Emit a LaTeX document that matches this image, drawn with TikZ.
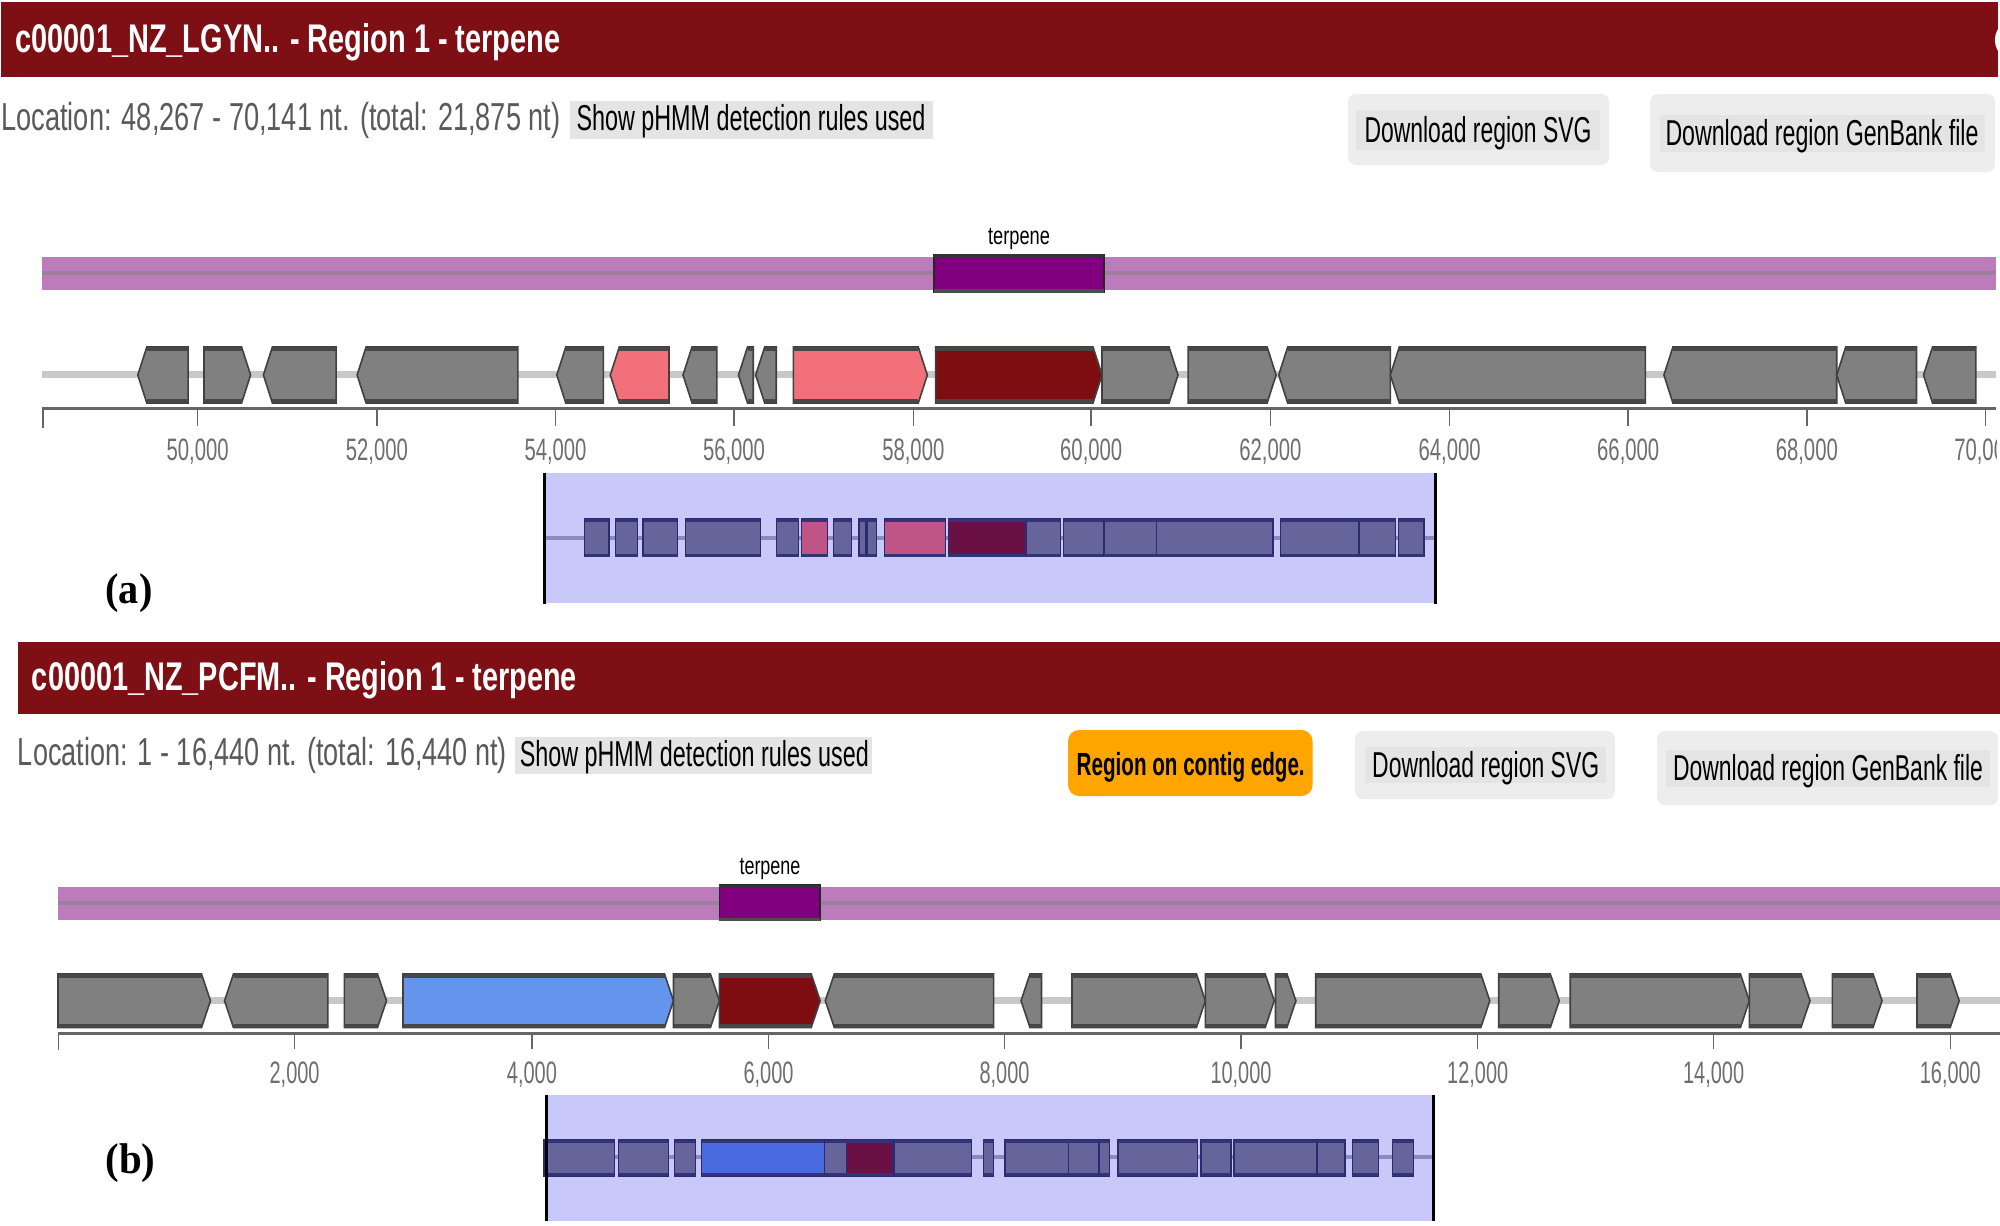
\documentclass[tikz,border=0pt]{standalone}
\usepackage{graphicx}
\usepackage{fontspec}
\setmainfont{Liberation Sans}
\newfontfamily\labelfont{Liberation Serif}
\definecolor{hdr}{HTML}{7E0F15}
\definecolor{btn}{HTML}{EDEDED}
\definecolor{btnin}{HTML}{E4E4E4}
\definecolor{barc}{HTML}{BC7CBC}
\definecolor{barl}{HTML}{9A809A}
\definecolor{regc}{HTML}{800080}
\definecolor{gline}{HTML}{C8C8C8}
\definecolor{ggrey}{HTML}{808080}
\definecolor{gpink}{HTML}{F1707A}
\definecolor{gdark}{HTML}{7E0D12}
\definecolor{gblue}{HTML}{6495ED}
\definecolor{mbg}{HTML}{C9C9F9}
\definecolor{mline}{HTML}{8A8ABC}
\definecolor{mgrey}{HTML}{65659B}
\definecolor{mpink}{HTML}{BF5587}
\definecolor{mdark}{HTML}{6B1045}
\definecolor{mblue}{HTML}{4A6BE0}
\definecolor{mstroke}{HTML}{2A2A70}
\definecolor{axisc}{HTML}{666666}
\definecolor{axtxt}{HTML}{6E6E6E}
\definecolor{loc}{HTML}{5A5A5A}
\definecolor{orng}{HTML}{FFA500}
\newcommand\fittext[3]{\resizebox{#1pt}{\height}{\fontsize{#2}{#2}\selectfont #3}}
% gene arrows: left, right, top, bottom, fill
\newcommand\geneR[5]{%
  \fill[#5] (#1,#3) -- ({#2-9},#3) -- (#2,{(#3+#4)/2}) -- ({#2-9},#4) -- (#1,#4) -- cycle;
  \draw[genestroke] (#1,#3) -- ({#2-9},#3) -- (#2,{(#3+#4)/2}) -- ({#2-9},#4) -- (#1,#4) -- cycle;
  \fill[geneband] (#1,#3) rectangle ({#2-9},{#3+4});
  \fill[geneband] (#1,{#4-4}) rectangle ({#2-9},#4);}
\newcommand\geneL[5]{%
  \fill[#5] (#2,#3) -- ({#1+9},#3) -- (#1,{(#3+#4)/2}) -- ({#1+9},#4) -- (#2,#4) -- cycle;
  \draw[genestroke] (#2,#3) -- ({#1+9},#3) -- (#1,{(#3+#4)/2}) -- ({#1+9},#4) -- (#2,#4) -- cycle;
  \fill[geneband] ({#1+9},#3) rectangle (#2,{#3+4});
  \fill[geneband] ({#1+9},{#4-4}) rectangle (#2,#4);}
\newcommand\mini[5]{%
  \fill[#5,draw=mstroke,line width=1.3pt] (#1,#3) rectangle (#2,#4);
  \fill[mstroke!85!mgrey] (#1,#3) rectangle (#2,{#3+3});
  \fill[mstroke!85!mgrey] (#1,{#4-3}) rectangle (#2,#4);}
\tikzset{
  x=1pt,y=-1pt,
  txt/.style={inner sep=0pt,outer sep=0pt,anchor=center,yshift=-2.2pt},
  genestroke/.style={draw=black!75,line width=1.6pt,line join=miter},
  geneband/.style={fill=black!72},
  btnbox/.style={fill=btn,rounded corners=8pt},
  btninner/.style={fill=btnin},
  ticks/.style={draw=axisc,line width=1.5pt},
  axislabel/.style={txt,text=axtxt},
}
\begin{document}
\begin{tikzpicture}
\useasboundingbox (0,0) rectangle (2000,1226);
\fill[white] (0,0) rectangle (2000,1226);

%% ---------- panel a ----------
\fill[hdr] (1,2) rectangle (1998,77);
\fill[white] (2003,40) ellipse (8 and 14);
\node[txt,text=white,font=\bfseries] (titleA) at (288,40) {\fittext{545}{40}{c00001\_NZ\_LGYN.. - Region 1 - terpene}};
\node[txt,text=loc] (locA) at (281,118.6) {\fittext{559}{39}{Location: 48,267 - 70,141 nt. (total: 21,875 nt)}};
\fill[btninner] (570,101) rectangle (933,139);
\node[txt,text=black] (rulesA) at (751,119) {\fittext{349}{36}{Show pHMM detection rules used}};
\fill[btnbox] (1348,94) rectangle (1609,165);
\fill[btninner] (1356,110) rectangle (1600,149.5);
\node[txt,text=black] (svgA) at (1478,130.5) {\fittext{227}{36}{Download region SVG}};
\fill[btnbox] (1650,94) rectangle (1995,172);
\fill[btninner] (1660,115) rectangle (1985,152);
\node[txt,text=black] (gbA) at (1822,134.4) {\fittext{313}{36}{Download region GenBank file}};

\fill[barc] (42,256.5) rectangle (1996,290);
\fill[barl] (42,271) rectangle (1996,275);
\fill[regc,draw=black!85,line width=1.6pt] (934,254.5) rectangle (1104,292);
\fill[black!80] (934,254) rectangle (1104,257.5);
\fill[black!70] (934,289) rectangle (1104,292.6);
\node[txt,text=black] (regA) at (1019,237) {\fittext{62}{25}{terpene}};

\fill[gline] (42,371) rectangle (1996,378);
\def\gt{347}\def\gb{403}
\foreach \l/\r/\c in {137.8/188.1/ggrey,263.4/336.1/ggrey,357.1/517.9/ggrey,556.8/603.3/ggrey,610.3/669/gpink,683/716.8/ggrey,738.5/753.2/ggrey,755.7/776.2/ggrey,1278.7/1390.3/ggrey,1390.3/1645.4/ggrey,1663.9/1836.7/ggrey,1836.7/1916.5/ggrey,1923.5/1975.8/ggrey}
  {\geneL{\l}{\r}{\gt}{\gb}{\c}}
\foreach \l/\r/\c in {204/250.6/ggrey,793.4/927.3/gpink,935.6/1102/gdark,1102/1178/ggrey,1188.1/1276.1/ggrey}
  {\geneR{\l}{\r}{\gt}{\gb}{\c}}

\draw[axisc,line width=3pt] (42,408.5) -- (1996,408.5);
\draw[ticks] (43,408.5) -- (43,428);
\foreach \x/\t in {197.7/50,376.9/52,555.5/54,734/56,913.3/58,1091.2/60,1270.4/62,1449.6/64,1628.2/66,1806.8/68}{
  \draw[ticks] (\x,408.5) -- (\x,426);
  \node[axislabel] at (\x,449) {\fittext{62}{31}{\t,000}};
}
\draw[ticks] (1985.3,408.5) -- (1985.3,426);
\begin{scope}
  \clip (1900,430) rectangle (1996,470);
  \node[axislabel] at (1985.3,449) {\fittext{62}{31}{70,000}};
\end{scope}

\fill[mbg] (544,472.5) rectangle (1435,603);
\fill[mline] (544,535.7) rectangle (1435,539.7);
\foreach \l/\r/\c in {584.8/609/mgrey,615.4/637.8/mgrey,642.9/677.3/mgrey,685.6/760.2/mgrey,776.2/798.5/mgrey,801.7/827.8/mpink,833.5/851.4/mgrey,859.1/866.1/mgrey,867.3/876.3/mgrey,884.6/945.2/mpink,948.3/1026/mdark,1026.1/1060.6/mgrey,1063.8/1104/mgrey,1104/1156.3/mgrey,1156.3/1273/mgrey,1280.6/1359/mgrey,1359/1395.4/mgrey,1398.6/1424.1/mgrey}
  {\mini{\l}{\r}{518.8}{556.7}{\c}}
\draw[black,line width=3pt] (544,472.5) -- (544,604);
\draw[black,line width=3pt] (1435,472.5) -- (1435,604);
\node[txt,text=black,font=\labelfont\bfseries] (lblA) at (129,591) {\fittext{47}{43}{(a)}};

%% ---------- panel b ----------
\fill[hdr] (18,642.4) rectangle (2000,714);
\node[txt,text=white,font=\bfseries] (titleB) at (304.5,678) {\fittext{545}{40}{c00001\_NZ\_PCFM.. - Region 1 - terpene}};
\node[txt,text=loc] (locB) at (262.5,753.4) {\fittext{489}{39}{Location: 1 - 16,440 nt. (total: 16,440 nt)}};
\fill[btninner] (514.7,737) rectangle (872.4,773.5);
\node[txt,text=black] (rulesB) at (694.3,755.3) {\fittext{349}{36}{Show pHMM detection rules used}};
\fill[orng,rounded corners=11pt] (1068,730) rectangle (1312.5,796);
\node[txt,text=black,font=\bfseries] (edgeB) at (1190.7,765) {\fittext{228}{32}{Region on contig edge.}};
\fill[btnbox] (1355,731) rectangle (1615,799);
\fill[btninner] (1365,747) rectangle (1606,783);
\node[txt,text=black] (svgB) at (1485.7,765.7) {\fittext{227}{36}{Download region SVG}};
\fill[btnbox] (1657,731) rectangle (1998,805);
\fill[btninner] (1666,750) rectangle (1990,787);
\node[txt,text=black] (gbB) at (1828,769) {\fittext{310}{36}{Download region GenBank file}};

\fill[barc] (58,887) rectangle (2000,920);
\fill[barl] (58,901) rectangle (2000,905);
\fill[regc,draw=black!85,line width=1.6pt] (719.4,885) rectangle (820,920.5);
\fill[black!80] (719.4,884.5) rectangle (820,888);
\fill[black!70] (719.4,917.5) rectangle (820,921);
\node[txt,text=black] (regB) at (770,867) {\fittext{61}{25}{terpene}};

\fill[gline] (58,997.3) rectangle (2000,1004.3);
\def\gt{974}\def\gb{1027.5}
\foreach \l/\r/\c in {224.5/327.8/ggrey,825.3/993.6/ggrey,1021/1041.5/ggrey}
  {\geneL{\l}{\r}{\gt}{\gb}{\c}}
\foreach \l/\r/\c in {58/210.5/ggrey,344.4/386.5/ggrey,403/673.5/gblue,673.5/719.4/ggrey,719.4/820.2/gdark,1072/1205.4/ggrey,1205.4/1274.2/ggrey,1275.5/1295.9/ggrey,1315.7/1489.8/ggrey,1498.7/1559.3/ggrey,1570.2/1749.4/ggrey,1749.4/1810/ggrey,1832.3/1882/ggrey,1917/1959.2/ggrey}
  {\geneR{\l}{\r}{\gt}{\gb}{\c}}

\draw[axisc,line width=3pt] (58,1033.6) -- (2000,1033.6);
\draw[ticks] (58.7,1033.6) -- (58.7,1050);
\foreach \x/\t/\w in {294.6/2/50,531.9/4/50,768.5/6/50,1004.5/8/50,1241/10/61,1477.7/12/61,1713.6/14/61,1950.3/16/61}{
  \draw[ticks] (\x,1033.6) -- (\x,1049);
  \node[axislabel] at (\x,1072) {\fittext{\w}{31}{\t,000}};
}

\fill[mbg] (546,1094.7) rectangle (1433.7,1221);
\fill[mline] (546,1155.3) rectangle (1433.7,1159.3);
\foreach \l/\r/\c in {544/614.2/mgrey,618.6/668.4/mgrey,674.7/695.2/mgrey,701.5/824.6/mblue,824.6/846.3/mgrey,846.3/892.9/mdark,894/971.3/mgrey,983.4/993.6/mgrey,1005/1068.2/mgrey,1068.2/1098.9/mgrey,1098.9/1109.7/mgrey,1118/1197.7/mgrey,1200.9/1230.9/mgrey,1234/1317/mgrey,1317/1345/mgrey,1352.7/1378.2/mgrey,1392.2/1413.3/mgrey}
  {\mini{\l}{\r}{1140}{1176}{\c}}
\draw[black,line width=3pt] (546,1094.7) -- (546,1221);
\draw[black,line width=3pt] (1433.7,1094.7) -- (1433.7,1221);
\node[txt,text=black,font=\labelfont\bfseries] (lblB) at (130.5,1161) {\fittext{50}{43}{(b)}};
\end{tikzpicture}
\end{document}
